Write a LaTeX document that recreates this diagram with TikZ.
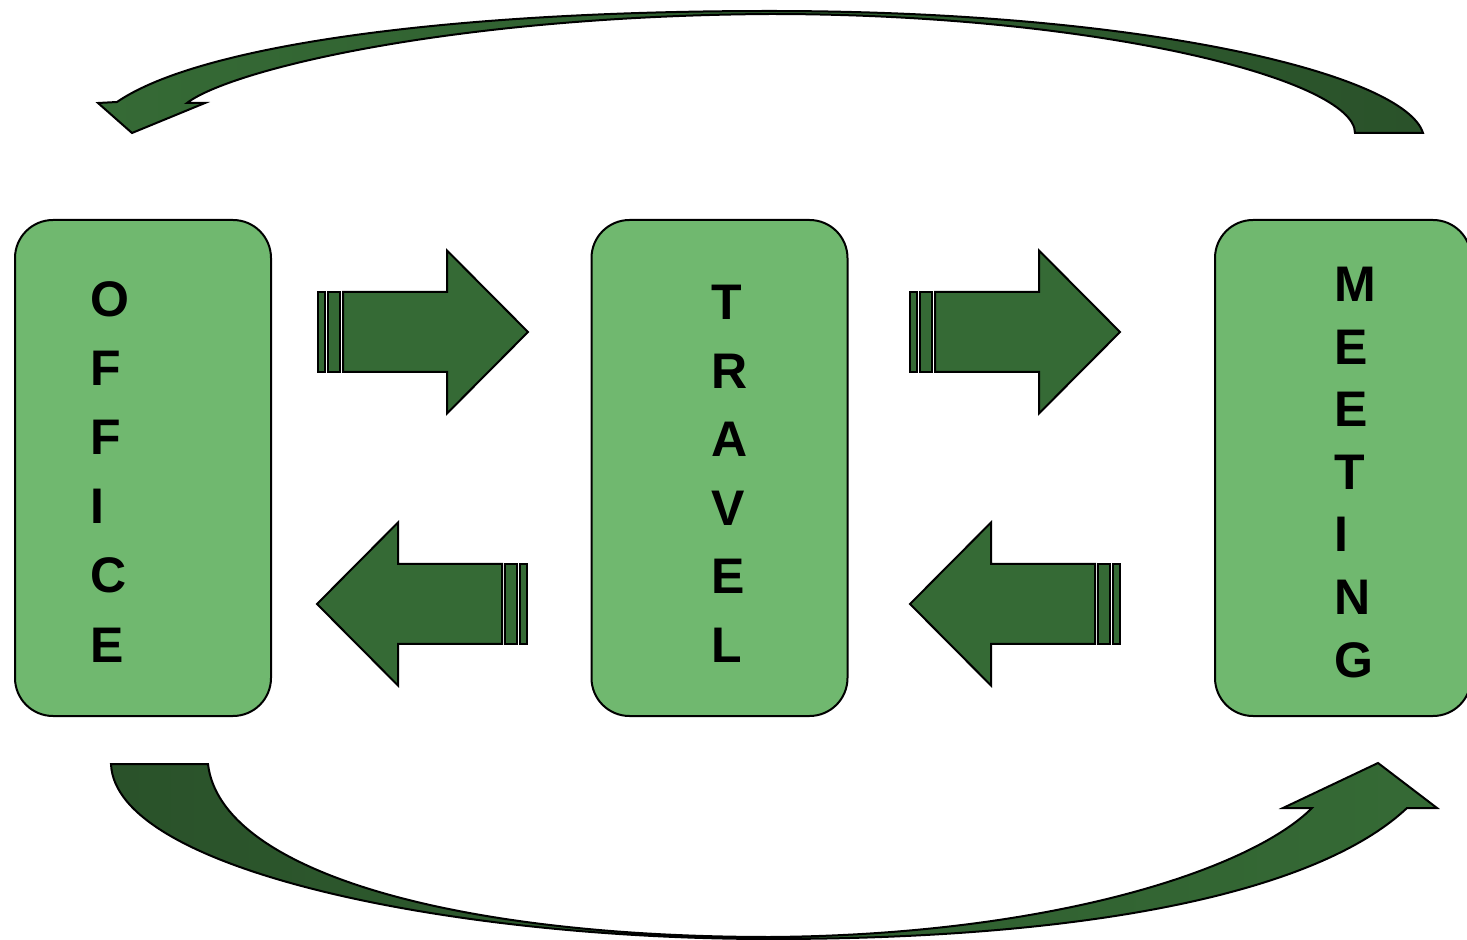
\documentclass[tikz,border=0pt]{standalone}
\usepackage{fontspec}
\setmainfont{Liberation Sans}
\definecolor{boxgreen}{HTML}{70B86F}
\definecolor{arrowgreen}{HTML}{356A35}
\definecolor{curvedark}{HTML}{2A522A}
\tikzset{
  stagebox/.style={draw=black, line width=1pt, fill=boxgreen, rounded corners=19pt,
    minimum width=128pt, minimum height=248pt, inner sep=0pt},
  letter/.style={anchor=base west, inner sep=0pt, font=\fontsize{25}{30}\selectfont\bfseries},
  arrowfill/.style={fill=arrowgreen, draw=black, line width=1pt, line join=miter},
  curvearrow/.style={draw=black, line width=1pt, line join=miter}
}
\newcommand\fatarrowat[3]{%
  \begin{scope}[shift={(#1,#2)}, xscale=#3]
    \path[arrowfill] (0,-40) rectangle (7,40);
    \path[arrowfill] (10,-40) rectangle (22,40);
    \path[arrowfill] (25,-40) -- (129,-40) -- (129,-81.5) -- (210,0) -- (129,81.5) -- (129,40) -- (25,40) -- cycle;
  \end{scope}}
\begin{document}
\begin{tikzpicture}[x=0.5pt,y=-0.5pt]
\useasboundingbox (0,0) rectangle (1467,940);
\clip (0,0) rectangle (1467,940);
\fill[white] (0,0) rectangle (1467,940);

% stage boxes
\node[stagebox] (office) at (143,468) {};
\node[stagebox] (travel) at (719.5,468) {};
\node[stagebox] (meeting) at (1343,468) {};

% letters
\foreach \ch [count=\i] in {O,F,F,I,C,E}
  \node[letter] (office-\i) at (90,{317+69*(\i-1)}) {\ch};
\foreach \ch [count=\i] in {T,R,A,V,E,L}
  \node[letter] (travel-\i) at (711,{320+68.4*(\i-1)}) {\ch};
\foreach \ch [count=\i] in {M,E,E,T,I,N,G}
  \node[letter] (meeting-\i) at (1334.5,{302+62.5*(\i-1)}) {\ch};

% straight arrows
\fatarrowat{318}{332}{1}
\fatarrowat{910}{332}{1}
\fatarrowat{527}{604}{-1}
\fatarrowat{1120}{604}{-1}

% top curved arrow (meeting -> office)
\path[curvearrow, left color=arrowgreen, right color=curvedark]
  (1423,133) .. controls (1405,75) and (1150,11) .. (770,11)
  .. controls (450,11) and (200,45) .. (117,102)
  -- (98,103) -- (132,133) -- (205,103) -- (187,103)
  .. controls (230,70) and (450,16) .. (770,14)
  .. controls (1100,14) and (1355,80) .. (1355,133)
  -- cycle;

% bottom curved arrow (office -> meeting)
\path[curvearrow, left color=curvedark, right color=arrowgreen]
  (111,764) .. controls (115,870) and (450,939) .. (770,939)
  .. controls (1100,939) and (1320,890) .. (1407,808)
  -- (1437,808) -- (1378,763) -- (1283,808) -- (1312,808)
  .. controls (1250,870) and (1050,935) .. (770,937)
  .. controls (450,937) and (220,870) .. (208,764)
  -- cycle;
\end{tikzpicture}
\end{document}
